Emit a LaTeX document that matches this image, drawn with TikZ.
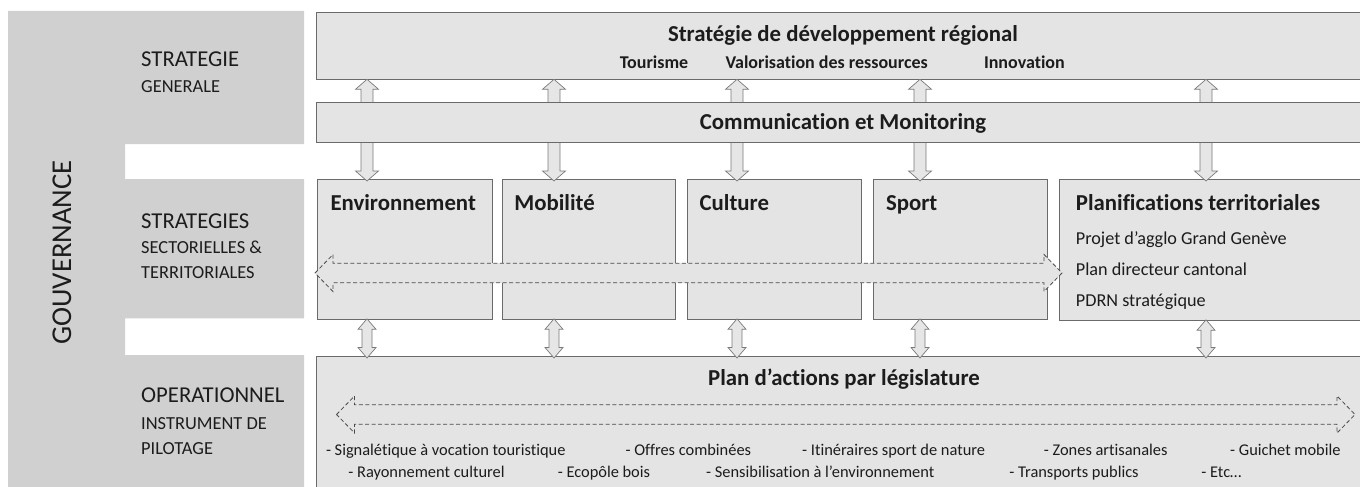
\documentclass[tikz,border=0pt]{standalone}
\usepackage{fontspec}
\setmainfont{Carlito}[Ligatures = NoCommon]
\usetikzlibrary{calc}

\definecolor{panelgray}{HTML}{D0D0D0}
\definecolor{boxfill}{HTML}{E4E4E4}
\definecolor{boxline}{HTML}{6A6A6A}
\definecolor{arrowline}{HTML}{7A7A7A}
\definecolor{arrowfill}{HTML}{E6E6E6}
\definecolor{dashline}{HTML}{4A4A4A}
\definecolor{textdark}{HTML}{1C1C1C}

% hollow two-headed link between two stacked boxes
\newcommand{\vlink}[6]{%
  \draw[linkarrow] let \p1 = (#1 |- #2.south), \p2 = (#1 |- #3.north) in
    (\x1, \y1+1pt) -- (\x1+#5pt, \y1+1pt-#6pt) -- (\x1+#4pt, \y1+1pt-#6pt)
    -- (\x1+#4pt, \y2-2pt+#6pt) -- (\x1+#5pt, \y2-2pt+#6pt) -- (\x1, \y2-2pt)
    -- (\x1-#5pt, \y2-2pt+#6pt) -- (\x1-#4pt, \y2-2pt+#6pt)
    -- (\x1-#4pt, \y1+1pt-#6pt) -- (\x1-#5pt, \y1+1pt-#6pt) -- cycle;}

% dashed two-headed flow arrow across a row
\newcommand{\hflow}[6]{%
  \draw[flowarrow] (#1,#3) -- ({#1+#6},{#3-#5}) -- ({#1+#6},{#3-#4}) -- ({#2-#6},{#3-#4})
    -- ({#2-#6},{#3-#5}) -- (#2,#3) -- ({#2-#6},{#3+#5}) -- ({#2-#6},{#3+#4})
    -- ({#1+#6},{#3+#4}) -- ({#1+#6},{#3+#5}) -- cycle;}

\tikzset{
  box/.style = {draw = boxline, fill = boxfill, line width = 0.8pt, anchor = north west, inner sep = 0pt},
  linkarrow/.style = {draw = arrowline, fill = arrowfill, line width = 0.7pt},
  flowarrow/.style = {draw = dashline, fill = boxfill, dash pattern = on 4pt off 2.5pt, line width = 0.8pt},
  level/.style = {font = \fontsize{22.7}{26}\selectfont, text = textdark, anchor = base west, inner sep = 0pt},
  sublevel/.style = {font = \fontsize{18.4}{22}\selectfont, text = textdark, anchor = base west, inner sep = 0pt},
  title/.style = {font = \fontsize{22.8}{26}\selectfont\bfseries, text = textdark, anchor = base, inner sep = 0pt},
  boxtitle/.style = {title, anchor = base west},
  theme/.style = {font = \fontsize{18}{22}\selectfont\bfseries, text = textdark, anchor = base west, inner sep = 0pt},
  item/.style = {font = \fontsize{18.2}{22}\selectfont, text = textdark, anchor = base west, inner sep = 0pt},
  action/.style = {font = \fontsize{16.4}{20}\selectfont, text = textdark, anchor = base west, inner sep = 0pt}
}

\begin{document}
\begin{tikzpicture}[x = 1pt, y = -1pt]
\useasboundingbox (0,0) rectangle (1360,487);
\clip (0,0) rectangle (1360,487);

% governance panel
\fill[panelgray] (8,11) -- (304,11) -- (304,144) -- (125,144) -- (125,179) -- (304,179) -- (304,318.3)
  -- (125,318.3) -- (125,355) -- (304,355) -- (304,495) -- (8,495) -- cycle;
\node[font = \fontsize{28.7}{32}\selectfont, text = textdark, rotate = 90, inner sep = 0pt] (gouv) at (62,252.5) {GOUVERNANCE};

\node[level] (lv1) at (141,66.7) {STRATEGIE};
\node[sublevel] (lv1b) at (141,92.7) {GENERALE};
\node[level] (lv2) at (141,228.3) {STRATEGIES};
\node[sublevel] (lv2b) at (141,253.3) {SECTORIELLES \&};
\node[sublevel] (lv2c) at (141,278.3) {TERRITORIALES};
\node[level] (lv3) at (141,402.3) {OPERATIONNEL};
\node[sublevel] (lv3b) at (141,429.3) {INSTRUMENT DE};
\node[sublevel] (lv3c) at (141,454) {PILOTAGE};

% boxes
\node[box, minimum width = 1060pt, minimum height = 67.2pt] (strat) at (316.3,12.3) {};
\node[box, minimum width = 174.4pt, minimum height = 140pt] (env) at (317.3,179) {};
\node[box, minimum width = 173.3pt, minimum height = 140pt] (mob) at (501.7,179) {};
\node[box, minimum width = 174pt, minimum height = 140pt] (cult) at (687,179) {};
\node[box, minimum width = 173.4pt, minimum height = 140pt] (sport) at (873.3,179) {};
\node[box, minimum width = 320pt, minimum height = 141pt] (planif) at (1059,179) {};
\node[box, minimum width = 1060pt, minimum height = 150pt] (plan) at (316.3,356) {};

% links
\coordinate (x1) at (367,0);
\coordinate (x2) at (554,0);
\coordinate (x3) at (737,0);
\coordinate (x4) at (920,0);
\coordinate (x5) at (1206,0);
\vlink{x1}{strat}{env}{6}{11.5}{10}
\vlink{x2}{strat}{mob}{6}{11.5}{10}
\vlink{x3}{strat}{cult}{6}{11.5}{10}
\vlink{x4}{strat}{sport}{6}{11.5}{10}
\vlink{x5}{strat}{planif}{6}{11.5}{10}
\vlink{x1}{env}{plan}{5}{9}{10.5}
\vlink{x2}{mob}{plan}{5}{9}{10.5}
\vlink{x3}{cult}{plan}{5}{9}{10.5}
\vlink{x4}{sport}{plan}{5}{9}{10.5}
\vlink{x5}{planif}{plan}{5}{9}{10.5}

\node[box, minimum width = 1060pt, minimum height = 40.5pt] (comm) at (316.3,101.5) {};

\hflow{315}{1062}{273}{9.8}{18.5}{18}
\hflow{336.5}{1355}{414.5}{9.8}{18.5}{18}

% texts
\node[title] (strattitle) at (843,41.7) {Stratégie de développement régional};
\node[theme] (tour) at (619.6,69) {Tourisme};
\node[theme] (valo) at (725.3,69) {Valorisation des ressources};
\node[theme] (inno) at (983.8,69) {Innovation};
\node[title] (commtitle) at (843,129) {Communication et Monitoring};

\node[boxtitle] (envtitle) at (330.3,210) {Environnement};
\node[boxtitle] (mobtitle) at (514.2,210) {Mobilité};
\node[boxtitle] (culttitle) at (699.4,210) {Culture};
\node[boxtitle] (sporttitle) at (885.8,210) {Sport};
\node[boxtitle] (planiftitle) at (1075.7,210) {Planifications territoriales};
\node[item] (pa) at (1075.7,244) {Projet d’agglo Grand Genève};
\node[item] (pb) at (1075.7,275) {Plan directeur cantonal};
\node[item] (pc) at (1075.7,306) {PDRN stratégique};

\node[title] (plantitle) at (844,385) {Plan d’actions par législature};
\node[action] (a1) at (325.8,455) {- Signalétique à vocation touristique};
\node[action] (a2) at (625.4,455) {- Offres combinées};
\node[action] (a3) at (802,455) {- Itinéraires sport de nature};
\node[action] (a4) at (1043.7,455) {- Zones artisanales};
\node[action] (a5) at (1230,455) {- Guichet mobile};
\node[action] (b1) at (348.2,477) {- Rayonnement culturel};
\node[action] (b2) at (557.6,477) {- Ecopôle bois};
\node[action] (b3) at (706,477) {- Sensibilisation à l’environnement};
\node[action] (b4) at (1009.2,477) {- Transports publics};
\node[action] (b5) at (1201.2,477) {- Etc…};
\end{tikzpicture}
\end{document}
